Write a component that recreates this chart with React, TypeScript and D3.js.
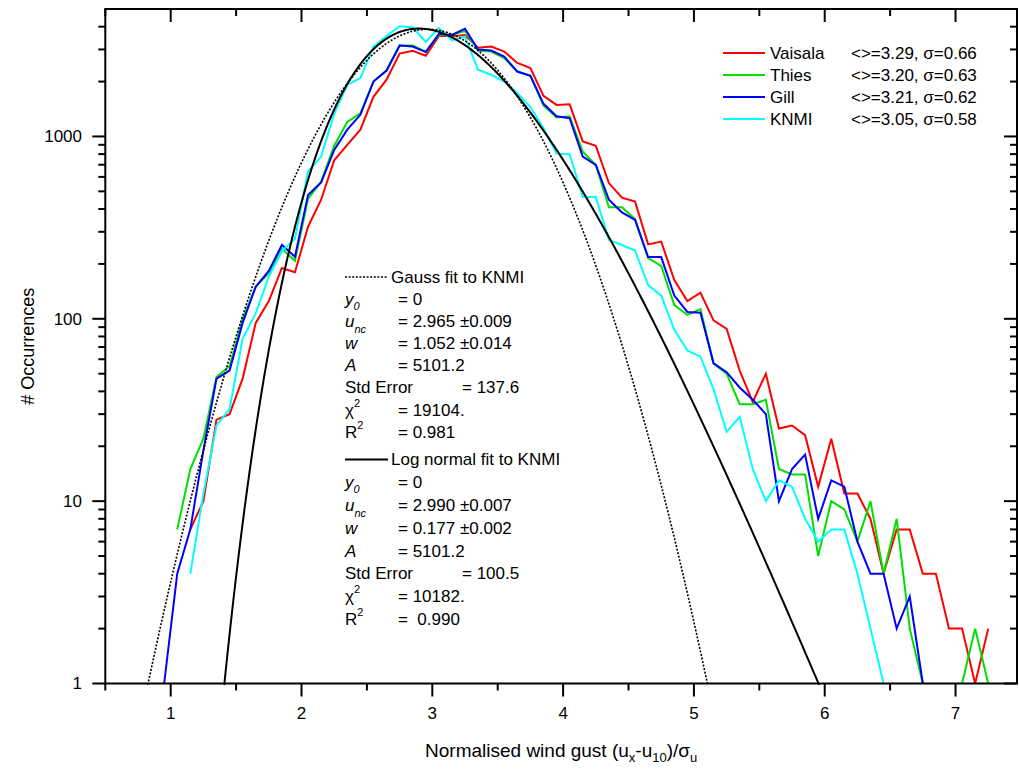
import React from "react";
import * as d3 from "d3";

// ---------- data ----------
const binCenters = [
  0.95, 1.05, 1.15, 1.25, 1.35, 1.45, 1.55, 1.65, 1.75, 1.85,
  1.95, 2.05, 2.15, 2.25, 2.35, 2.45, 2.55, 2.65, 2.75, 2.85,
  2.95, 3.05, 3.15, 3.25, 3.35, 3.45, 3.55, 3.65, 3.75, 3.85,
  3.95, 4.05, 4.15, 4.25, 4.35, 4.45, 4.55, 4.65, 4.75, 4.85,
  4.95, 5.05, 5.15, 5.25, 5.35, 5.45, 5.55, 5.65, 5.75, 5.85,
  5.95, 6.05, 6.15, 6.25, 6.35, 6.45, 6.55, 6.65, 6.75, 6.85,
  6.95, 7.05, 7.15, 7.25,
];

const vaisala: (number | null)[] = [
  null, null, 7, 10, 28, 30, 47, 95, 125, 190,
  180, 320, 450, 740, 900, 1090, 1650, 2050, 2850, 2950,
  2770, 3550, 3550, 3600, 3070, 3110, 2920, 2530, 2370, 1670,
  1490, 1500, 940, 890, 555, 462, 440, 256, 265, 163,
  125, 139, 98, 88, 52, 35, 50, 25, 26, 23,
  12, 22, 11, 11, 8, 4, 7, 7, 4, 4,
  2, 2, 1, 2,
];

const thies: (number | null)[] = [
  null, 7, 15, 22, 48, 55, 100, 150, 178, 242,
  208, 455, 565, 890, 1200, 1340, 2000, 2300, 3150, 3150,
  2920, 3600, 3600, 3800, 2960, 2920, 2690, 2270, 2150, 1480,
  1270, 1290, 826, 698, 409, 409, 352, 215, 195, 119,
  105, 113, 57, 50, 34, 34, 36, 15, 14, 14,
  5, 10, 9, 6, 10, 4, 8, 2, 1, null,
  null, 1, 2, 1,
];

const gill: (number | null)[] = [
  1, 4, 7, 19, 47, 52, 95, 150, 183, 254,
  219, 478, 559, 844, 1090, 1314, 2000, 2300, 3150, 3110,
  2900, 3650, 3600, 3900, 3000, 2960, 2740, 2270, 2150, 1510,
  1290, 1260, 776, 698, 450, 383, 349, 218, 218, 134,
  109, 108, 57, 51, 42, 36, 30, 10, 15, 18,
  8, 13, 12, 6, 4, 4, 2, 3, 1, null,
  null, null, null, null,
];

const knmi: (number | null)[] = [
  null, null, 4, 11, 26, 32, 78, 107, 170, 235,
  275, 642, 776, 1330, 1920, 2090, 3110, 3550, 4020, 3970,
  3300, 3940, 3360, 3530, 2320, 2180, 2000, 1730, 1450, 1110,
  805, 800, 465, 465, 271, 254, 237, 153, 134, 87,
  67, 62, 41, 24, 29, 15, 10, 13, 12, 8,
  6, 7, 7, 4, 2, 1, null, null, null, null,
  null, null, null, null,
];

const seriesNames = ["Vaisala", "Thies", "Gill", "KNMI"];
const seriesStats = [
  "<>=3.29, σ=0.66",
  "<>=3.20, σ=0.63",
  "<>=3.21, σ=0.62",
  "<>=3.05, σ=0.58",
];
const seriesColors = ["#ff0000", "#00e000", "#0000ff", "#00ffff"];
const seriesValues = [vaisala, thies, gill, knmi];

// fit parameters (as printed in the chart)
const gaussFit = { y0: 0, xc: 2.965, w: 1.052, A: 5101.2 };
const logNormFit = { y0: 0, xc: 2.99, w: 0.177, A: 5101.2 };

const xTicks = [1, 2, 3, 4, 5, 6, 7];
const xMinorTicks = [0.5, 1.5, 2.5, 3.5, 4.5, 5.5, 6.5];
const yTicks = [1, 10, 100, 1000];
const yMinorTicks = [
  2, 3, 4, 5, 6, 7, 8, 9,
  20, 30, 40, 50, 60, 70, 80, 90,
  200, 300, 400, 500, 600, 700, 800, 900,
  2000, 3000, 4000,
];

// ---------- layout ----------
const W = 1019;
const H = 771;
const L = 105.3;
const R = 1017;
const T = 9;
const B = 683.5;
const FONT = "'Liberation Sans', Arial, Helvetica, sans-serif";

const x = d3.scaleLinear().domain([0.5, 7.47]).range([L, R]);
const y = d3.scaleLog().domain([1, 5000]).range([B, T]);

function gauss(v: number) {
  const p = gaussFit;
  return p.y0 + (p.A / (p.w * Math.sqrt(Math.PI / 2))) * Math.exp((-2 * (v - p.xc) * (v - p.xc)) / (p.w * p.w));
}
function logNorm(v: number) {
  const p = logNormFit;
  const l = Math.log(v / p.xc);
  return p.y0 + (p.A / (Math.sqrt(2 * Math.PI) * p.w * v)) * Math.exp((-l * l) / (2 * p.w * p.w));
}

const fitXs = d3.range(0.5, 7.5, 0.005);

export default function App() {
  const dataLine = d3
    .line<[number, number | null]>()
    .defined((d) => d[1] != null && (d[1] as number) > 0)
    .x((d) => x(d[0]))
    .y((d) => y(d[1] as number));

  const fitLine = d3
    .line<[number, number]>()
    .defined((d) => d[1] >= 0.5)
    .x((d) => x(d[0]))
    .y((d) => y(d[1]))
    .curve(d3.curveLinear);

  const gaussPts: [number, number][] = fitXs.map((v) => [v, gauss(v)]);
  const logPts: [number, number][] = fitXs.map((v) => [v, logNorm(v)]);

  const rY = (i: number) => (i < 8 ? 277 + 22.1 * i : 459.4 + 22.8 * (i - 8));
  const labX = 345;
  const eqX = 398;
  const stdEqX = 462;
  const fs = 17;

  const sym = (kind: string, i: number) => {
    const yy = rY(i);
    if (kind === "y0")
      return (
        <text x={labX} y={yy} dy="0.35em">
          <tspan fontStyle="italic">y</tspan>
          <tspan fontStyle="italic" fontSize={11} dy={5}>0</tspan>
        </text>
      );
    if (kind === "unc")
      return (
        <text x={labX} y={yy} dy="0.35em">
          <tspan fontStyle="italic">u</tspan>
          <tspan fontStyle="italic" fontSize={11} dy={6}>nc</tspan>
        </text>
      );
    if (kind === "w")
      return (
        <text x={labX} y={yy} dy="0.35em" fontStyle="italic">w</text>
      );
    if (kind === "A")
      return (
        <text x={labX} y={yy} dy="0.35em" fontStyle="italic">A</text>
      );
    if (kind === "std")
      return (
        <text x={labX} y={yy} dy="0.35em">Std Error</text>
      );
    if (kind === "chi")
      return (
        <text x={labX} y={yy} dy="0.35em">
          <tspan>χ</tspan>
          <tspan fontSize={11} dy={-9}>2</tspan>
        </text>
      );
    return (
      <text x={labX} y={yy} dy="0.35em">
        <tspan>R</tspan>
        <tspan fontSize={11} dy={-9}>2</tspan>
      </text>
    );
  };

  const upperRows = [
    ["y0", "= 0"],
    ["unc", "= 2.965 ±0.009"],
    ["w", "= 1.052 ±0.014"],
    ["A", "= 5101.2"],
    ["std", "= 137.6"],
    ["chi", "= 19104."],
    ["R", "= 0.981"],
  ];
  const lowerRows = [
    ["y0", "= 0"],
    ["unc", "= 2.990 ±0.007"],
    ["w", "= 0.177 ±0.002"],
    ["A", "= 5101.2"],
    ["std", "= 100.5"],
    ["chi", "= 10182."],
    ["R", "=  0.990"],
  ];

  return (
    <svg
      width={W}
      height={H}
      style={{ position: "absolute", left: 0, top: 0, background: "#fff" }}
      fontFamily={FONT}
      fontSize={fs}
    >
      <rect x={0} y={0} width={W} height={H} fill="#fff" />
      <defs>
        <clipPath id="plotClip">
          <rect x={L} y={T} width={R - L} height={B - T + 1.5} />
        </clipPath>
      </defs>

      {/* data series */}
      <g clipPath="url(#plotClip)" fill="none" strokeWidth={2} strokeLinejoin="miter">
        {seriesValues.map((vals, si) => (
          <path
            key={si}
            d={dataLine(binCenters.map((c, i) => [c, vals[i]] as [number, number | null])) || ""}
            stroke={seriesColors[si]}
          />
        ))}
        <path d={fitLine(gaussPts) || ""} stroke="#000" strokeWidth={1.6} strokeDasharray="2,1.6" />
        <path d={fitLine(logPts) || ""} stroke="#000" strokeWidth={2} />
      </g>

      {/* frame */}
      <rect x={L} y={T} width={R - L} height={B - T} fill="none" stroke="#000" strokeWidth={2} />

      {/* bottom & top ticks */}
      <g stroke="#000" strokeWidth={2}>
        {xTicks.map((t) => (
          <g key={"xt" + t}>
            <line x1={x(t)} x2={x(t)} y1={B} y2={B + 13} />
            <line x1={x(t)} x2={x(t)} y1={T} y2={T + 13} />
          </g>
        ))}
        {xMinorTicks.map((t) => (
          <g key={"xm" + t}>
            <line x1={x(t)} x2={x(t)} y1={B} y2={B + 7} />
            <line x1={x(t)} x2={x(t)} y1={T} y2={T + 7} />
          </g>
        ))}
        {yTicks.map((t) => (
          <g key={"yt" + t}>
            <line x1={L - 13} x2={L} y1={y(t)} y2={y(t)} />
            <line x1={R - 13} x2={R} y1={y(t)} y2={y(t)} />
          </g>
        ))}
        {yMinorTicks.map((t) => (
          <g key={"ym" + t}>
            <line x1={L - 7} x2={L} y1={y(t)} y2={y(t)} />
            <line x1={R - 7} x2={R} y1={y(t)} y2={y(t)} />
          </g>
        ))}
      </g>

      {/* tick labels */}
      {xTicks.map((t) => (
        <text key={"xl" + t} x={x(t)} y={713} dy="0.35em" textAnchor="middle">
          {t}
        </text>
      ))}
      {yTicks.map((t) => (
        <text key={"yl" + t} x={82} y={y(t)} dy="0.35em" textAnchor="end">
          {t}
        </text>
      ))}

      {/* axis titles */}
      <text x={(L + R) / 2} y={750} dy="0.35em" textAnchor="middle" fontSize={19}>
        <tspan>Normalised wind gust (u</tspan>
        <tspan fontSize={13} dy={5}>x</tspan>
        <tspan dy={-5}>-u</tspan>
        <tspan fontSize={13} dy={5}>10</tspan>
        <tspan dy={-5}>)/σ</tspan>
        <tspan fontSize={13} dy={5}>u</tspan>
      </text>
      <text
        transform={`translate(28,${(T + B) / 2}) rotate(-90)`}
        dy="0.35em"
        textAnchor="middle"
        fontSize={18}
      >
        # Occurrences
      </text>

      {/* legend */}
      {seriesNames.map((n, i) => {
        const ly = 53 + 22 * i;
        return (
          <g key={n}>
            <line x1={723} x2={765} y1={ly} y2={ly} stroke={seriesColors[i]} strokeWidth={2} />
            <text x={770} y={ly} dy="0.35em">{n}</text>
            <text x={851} y={ly} dy="0.35em">{seriesStats[i]}</text>
          </g>
        );
      })}

      {/* fit annotation */}
      <line x1={345} x2={388} y1={rY(0)} y2={rY(0)} stroke="#000" strokeWidth={1.6} strokeDasharray="2,1.6" />
      <text x={391} y={rY(0)} dy="0.35em">Gauss fit to KNMI</text>
      {upperRows.map((r, i) => (
        <g key={"u" + i}>
          {sym(r[0], i + 1)}
          <text x={r[0] === "std" ? stdEqX : eqX} y={rY(i + 1)} dy="0.35em" style={{ whiteSpace: "pre" }}>
            {r[1]}
          </text>
        </g>
      ))}
      <line x1={345} x2={388} y1={rY(8)} y2={rY(8)} stroke="#000" strokeWidth={2} />
      <text x={391} y={rY(8)} dy="0.35em">Log normal fit to KNMI</text>
      {lowerRows.map((r, i) => (
        <g key={"l" + i}>
          {sym(r[0], i + 9)}
          <text x={r[0] === "std" ? stdEqX : eqX} y={rY(i + 9)} dy="0.35em" style={{ whiteSpace: "pre" }}>
            {r[1]}
          </text>
        </g>
      ))}
    </svg>
  );
}
